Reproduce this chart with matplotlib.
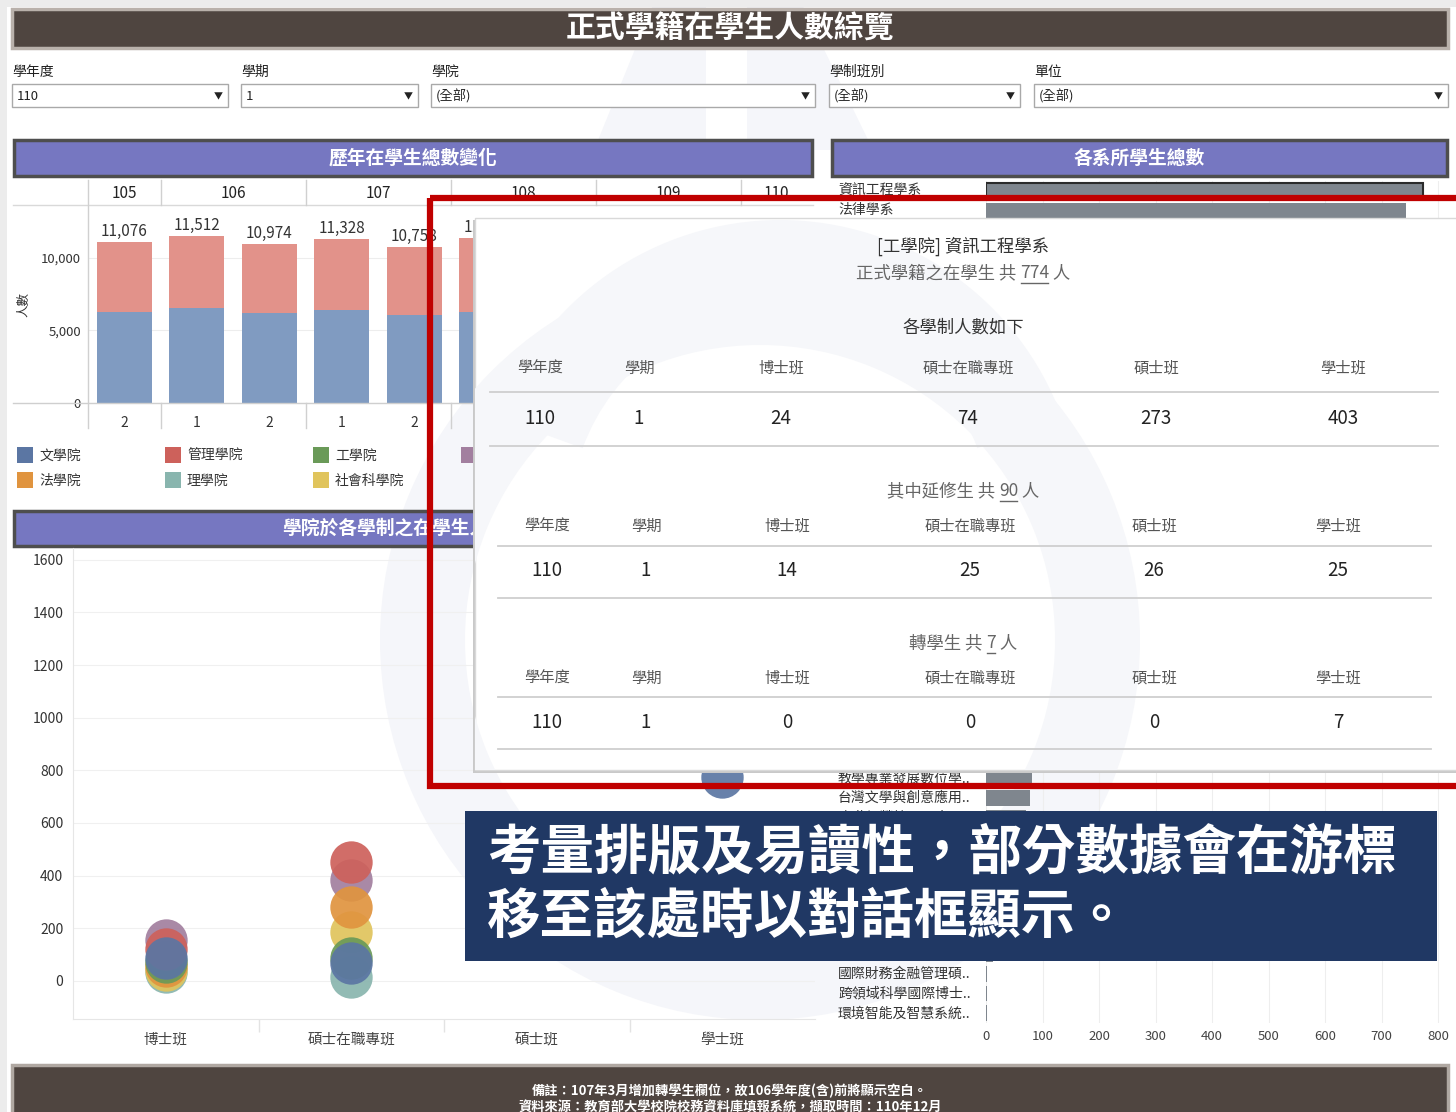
import numpy as np
import matplotlib
matplotlib.use("Agg")
import matplotlib.pyplot as plt
from matplotlib.patches import Rectangle, Wedge, Polygon

plt.rcParams['font.family'] = ['Noto Sans CJK TC', 'DejaVu Sans']

W, H = 1456, 1112

# ---- filters ----
filter_names = ['學年度', '學期', '學院', '學制班別', '單位']
filter_values = ['110', '1', '(全部)', '(全部)', '(全部)']

# ---- 歷年在學生總數變化 ----
years = ['105', '106', '106', '107', '107', '108', '108', '109', '109', '110']
semesters = ['2', '1', '2', '1', '2', '1', '2', '1', '2', '1']
totals = [11076, 11512, 10974, 11328, 10758, 11352, 10880, 11240, 10790, 11150]
lower_part = [6297, 6572, 6228, 6393, 6048, 6297, 6100, 6300, 6050, 6200]

# ---- colleges / bubble chart ----
colleges = ['文學院', '管理學院', '工學院', '教育學院', '法學院', '理學院', '社會科學院']
college_colors = ['#5b76a3', '#cd615b', '#6a9a58', '#a27f9f', '#e0943f', '#89b5ae', '#e0c45c']
levels = ['博士班', '碩士在職專班', '碩士班', '學士班']
level_counts = [
    [85, 68, 520, 775],     # 文學院
    [122, 450, 480, 1480],  # 管理學院
    [70, 88, 450, 1350],    # 工學院
    [155, 385, 300, 1120],  # 教育學院
    [55, 280, 260, 960],    # 法學院
    [35, 15, 350, 1200],    # 理學院
    [42, 185, 200, 1050],   # 社會科學院
]
draw_order = ['理學院', '社會科學院', '教育學院', '法學院', '工學院', '管理學院', '文學院']

# ---- 各系所學生總數 ----
depts = ['資訊工程學系', '法律學系', '企業管理學系', '中國文學系', '財務金融學系', '電機工程學系',
         '社會工作學系', '外國語文學系', '應用數學系', '會計學系', '經濟學系', '化學系',
         '資訊管理學系', '公共行政學系', '歷史學系', '土木工程學系', '物理學系', '國際企業學系',
         '政治學系', '社會學系', '生命科學系', '機械工程學系', '觀光休閒學系', '心理學系',
         '統計學系', '教育研究所', '藝術研究所', '人類學研究所', '科技法律研究所', '光電工程研究所',
         '教學專業發展數位學..', '台灣文學與創意應用..', '高階經營管理碩士..', '亞太研究所',
         '通訊工程研究所', '材料科學研究所', '地球科學研究所', '哲學研究所', '數位內容科技學程..',
         '國際事務研究所', '國際財務金融管理碩..', '跨領域科學國際博士..', '環境智能及智慧系統..']
dept_counts = [774, 743, 702, 668, 641, 610, 583, 552, 527, 498, 470, 446, 421, 398, 372,
               350, 329, 305, 284, 262, 240, 219, 198, 180, 161, 143, 128, 113, 101, 90,
               81, 78, 70, 61, 52, 44, 35, 27, 19, 12, 2, 1, 1]

# ---- popup (tooltip) ----
popup_cols = ['學年度', '學期', '博士班', '碩士在職專班', '碩士班', '學士班']
popup_all = ['110', '1', '24', '74', '273', '403']
popup_ext = ['110', '1', '14', '25', '26', '25']
popup_trans = ['110', '1', '0', '0', '0', '7']

note = '考量排版及易讀性，部分數據會在游標\n移至該處時以對話框顯示。'


def frac(x0, y0, x1, y1):
    return [x0 / W, 1 - y1 / H, (x1 - x0) / W, (y1 - y0) / H]


fig = plt.figure(figsize=(W / 100, H / 100), dpi=100)
fig.patch.set_facecolor('white')

bg = fig.add_axes([0, 0, 1, 1], zorder=0, label='bg')
bg.set_xlim(0, W)
bg.set_ylim(H, 0)
bg.axis('off')

# faint watermark behind everything
wm = '#f5f6fa'
bg.add_patch(Polygon([(655, 0), (706, 0), (706, 150), (594, 150)], color=wm, lw=0))
bg.add_patch(Polygon([(747, 0), (800, 0), (873, 150), (747, 150)], color=wm, lw=0))
bg.add_patch(Wedge((760, 640), 380, 0, 360, width=85, color=wm, lw=0))

# page margins
bg.add_patch(Rectangle((0, 0), 7, H, color='#ececec', lw=0))
bg.add_patch(Rectangle((0, 0), W, 7, color='#ececec', lw=0))

# title banner
bg.add_patch(Rectangle((12, 9), 1436, 39, facecolor='#4f4540', edgecolor='#b9b1ab', lw=2.5))
bg.text(730, 29, '正式學籍在學生人數綜覽', color='white', fontsize=21.5, weight='bold',
        ha='center', va='center')

# filters
fx = [(12, 228), (241, 418), (431, 815), (829, 1020), (1034, 1448)]
for (x0, x1), name, val in zip(fx, filter_names, filter_values):
    bg.text(x0, 72, name, fontsize=10, ha='left', va='center', color='#222')
    bg.add_patch(Rectangle((x0, 84), x1 - x0, 23, facecolor='white', edgecolor='#a9a9a9', lw=1))
    bg.text(x0 + 5, 96, val, fontsize=9.5, ha='left', va='center', color='#222')
    bg.text(x1 - 10, 97, '▼', fontsize=6.5, ha='center', va='center', color='#222')


# panel headers
def header(x0, x1, y0, y1, text):
    bg.add_patch(Rectangle((x0, y0), x1 - x0, y1 - y0, facecolor='#7677c1',
                           edgecolor='#4e4e4e', lw=2.5))
    bg.text((x0 + x1) / 2, (y0 + y1) / 2, text, color='white',
            fontsize=13.5, weight='bold', ha='center', va='center')


header(14, 812, 140, 176, '歷年在學生總數變化')
header(832, 1447, 140, 176, '各系所學生總數')
header(14, 812, 511, 546, '學院於各學制之在學生人數分布')

# legend
for i, (name, col) in enumerate(zip(colleges, college_colors)):
    lx = 17 + 148 * (i % 4)
    ly = 455 + 25 * (i // 4)
    bg.add_patch(Rectangle((lx, ly - 8), 16, 16, color=col, lw=0))
    bg.text(lx + 22, ly + 1, name, fontsize=10, ha='left', va='center', color='#333')

# ---------------- stacked bar chart ----------------
axb = fig.add_axes(frac(88, 205, 813, 403), zorder=2, label='bars')
axb.patch.set_alpha(0)
x = np.arange(len(totals))
upper = np.array(totals) - np.array(lower_part)
axb.bar(x, lower_part, width=0.76, color='#809bc1')
axb.bar(x, upper, bottom=lower_part, width=0.76, color='#e2928a')
axb.set_xlim(-0.5, len(x) - 0.5)
axb.set_ylim(0, 13655)
for s in axb.spines.values():
    s.set_visible(False)
axb.set_yticks([0, 5000, 10000], ['0', '5,000', '10,000'])
axb.tick_params(axis='y', length=0, pad=5, labelsize=9.5, labelcolor='#333')
axb.set_xticks(x, semesters)
axb.tick_params(axis='x', length=0, pad=9, labelsize=10, labelcolor='#333')
axb.grid(axis='y', color='#ededed', lw=0.8)
axb.set_axisbelow(True)
axb.set_ylabel('人數', fontsize=9, color='#333')
axb.yaxis.set_label_coords(-58 / 725, 0.5)
for i, t in enumerate(totals):
    axb.text(i, t + 150, f'{t:,}', ha='center', va='bottom', fontsize=11, color='#333')

tb = axb.get_xaxis_transform()
left_x = -0.5 - 75 / 72.5
axb.plot([left_x, len(x) - 0.5], [1, 1], transform=tb, clip_on=False, color='#d9d9d9', lw=1)
axb.plot([left_x, len(x) - 0.5], [0, 0], transform=tb, clip_on=False, color='#cfcfcf', lw=1)
axb.plot([-0.5, -0.5], [-0.126, 1.126], transform=tb, clip_on=False, color='#d0d0d0', lw=1)
uniq = list(dict.fromkeys(years))
for yr in uniq:
    idx = [i for i, v in enumerate(years) if v == yr]
    axb.text(np.mean(idx), 1.058, yr, transform=tb, ha='center', va='center',
             fontsize=11, color='#222')
    b = idx[-1] + 0.5
    if b < len(x) - 0.5:
        axb.plot([b, b], [1.0, 1.126], transform=tb, clip_on=False, color='#d0d0d0', lw=1)
        axb.plot([b, b], [-0.126, 0.0], transform=tb, clip_on=False, color='#d0d0d0', lw=1)

# ---------------- bubble chart ----------------
axc = fig.add_axes(frac(73, 548, 815, 1019), zorder=2, label='bubbles')
axc.patch.set_alpha(0)
for name in draw_order:
    k = colleges.index(name)
    axc.scatter(np.arange(len(levels)), level_counts[k], s=930, color=college_colors[k],
                alpha=0.92, lw=0)
axc.set_xlim(-0.5, len(levels) - 0.5)
axc.set_ylim(-145, 1645)
axc.set_yticks(np.arange(0, 1601, 200))
axc.tick_params(axis='y', length=0, pad=7, labelsize=10, labelcolor='#333')
axc.set_xticks(np.arange(len(levels)), levels)
axc.set_xticks(np.arange(len(levels) - 1) + 0.5, minor=True)
axc.tick_params(axis='x', which='major', length=0, pad=10, labelsize=10.5, labelcolor='#444')
axc.tick_params(axis='x', which='minor', length=9, color='#e3e3e3', width=1)
axc.grid(axis='y', color='#f0f0f0', lw=0.8)
axc.set_axisbelow(True)
for side in ['top', 'right']:
    axc.spines[side].set_visible(False)
for side in ['left', 'bottom']:
    axc.spines[side].set_color('#e6e6e6')

# ---------------- department bars ----------------
axr = fig.add_axes(frac(986, 181, 1446, 1023), zorder=2, label='depts')
axr.patch.set_alpha(0)
ypos = np.arange(len(depts))
bars = axr.barh(ypos, dept_counts, height=0.8, color='#7f868e')
bars[0].set_edgecolor('#2b2b2b')
bars[0].set_linewidth(1.5)
axr.set_ylim(len(depts) - 0.5, -0.5)
axr.set_xlim(0, 814)
axr.set_yticks([])
axr.set_xticks(np.arange(0, 801, 100))
axr.tick_params(axis='x', length=0, pad=5, labelsize=9.5, labelcolor='#444')
axr.grid(axis='x', color='#eeeeee', lw=0.8)
axr.set_axisbelow(True)
for s in axr.spines.values():
    s.set_visible(False)
tr = axr.get_yaxis_transform()
for i, d in enumerate(depts):
    axr.text(-148 / 460, i, d, transform=tr, ha='left', va='center', fontsize=10, color='#333')

# ---------------- overlay ----------------
ov = fig.add_axes([0, 0, 1, 1], zorder=10, label='overlay')
ov.set_xlim(0, W)
ov.set_ylim(H, 0)
ov.axis('off')
ov.patch.set_alpha(0)

# popup
ov.add_patch(Rectangle((473, 220), 1000, 553, facecolor='#c9c9c9', lw=0))
popup = Rectangle((475, 218), 1000, 552, facecolor='white', edgecolor='#d9d9d9', lw=1)
ov.add_patch(popup)
for shape in [Wedge((760, 640), 380, 0, 360, width=85, color='#f6f7fa', lw=0),
              Wedge((780, 520), 300, 200, 340, width=90, color='#f6f7fa', lw=0)]:
    ov.add_patch(shape)
    shape.set_clip_path(popup)

renderer = fig.canvas.get_renderer()


def centered_parts(xc, y, parts, under, size, color):
    objs = [ov.text(0, y, p, ha='left', va='center', fontsize=size, color=color) for p in parts]
    widths = [o.get_window_extent(renderer).width for o in objs]
    xx = xc - sum(widths) / 2
    for o, w, u in zip(objs, widths, under):
        o.set_x(xx)
        if u:
            ov.plot([xx + 1, xx + w - 1], [y + 10, y + 10], color=color, lw=1)
        xx += w


ov.text(963, 246, '[工學院] 資訊工程學系', fontsize=12.5, ha='center', va='center', color='#333')
centered_parts(963, 273, ['正式學籍之在學生 共 ', '774', ' 人'], [False, True, False], 12.5, '#666')
ov.text(963, 328, '各學制人數如下', fontsize=12.5, ha='center', va='center', color='#333')


def popup_table(cols_x, y_head, y_line1, y_val, y_line2, x0, x1, vals):
    for cx, c, v in zip(cols_x, popup_cols, vals):
        ov.text(cx, y_head, c, fontsize=11, ha='center', va='center', color='#555')
        ov.text(cx, y_val, v, fontsize=13.5, ha='center', va='center', color='#222')
    ov.plot([x0, x1], [y_line1, y_line1], color='#cfcfcf', lw=1.3)
    ov.plot([x0, x1], [y_line2, y_line2], color='#cfcfcf', lw=1.3)


popup_table([540, 639, 781, 968, 1156, 1343], 368, 392, 419, 446, 490, 1438, popup_all)
centered_parts(963, 491, ['其中延修生 共 ', '90', ' 人'], [False, True, False], 12.5, '#666')
popup_table([547, 646, 787, 970, 1154, 1338], 526, 546, 571, 598, 498, 1431, popup_ext)
centered_parts(963, 643, ['轉學生 共 ', '7', ' 人'], [False, True, False], 12.5, '#666')
popup_table([547, 646, 787, 970, 1154, 1338], 678, 697, 722, 749, 498, 1431, popup_trans)

# red highlight frame
ov.add_patch(Rectangle((430, 198), 1060, 588, fill=False, edgecolor='#c00000', lw=4.5))

# note box
ov.add_patch(Rectangle((465, 811), 972, 150, facecolor='#203864', lw=0))
ov.text(487, 885, note, fontsize=38.5, weight='bold', color='white', ha='left', va='center',
        linespacing=1.22)

# footer
ov.add_patch(Rectangle((12, 1065), 1436, 60, facecolor='#4f4540', edgecolor='#b0a8a2', lw=2.5))
ov.text(730, 1091, '備註：107年3月增加轉學生欄位，故106學年度(含)前將顯示空白。',
        fontsize=9.5, weight='bold', color='white', ha='center', va='center')
ov.text(730, 1108, '資料來源：教育部大學校院校務資料庫填報系統，擷取時間：110年12月',
        fontsize=9.5, weight='bold', color='white', ha='center', va='center')

fig.savefig('out.png', dpi=100, facecolor='white')
